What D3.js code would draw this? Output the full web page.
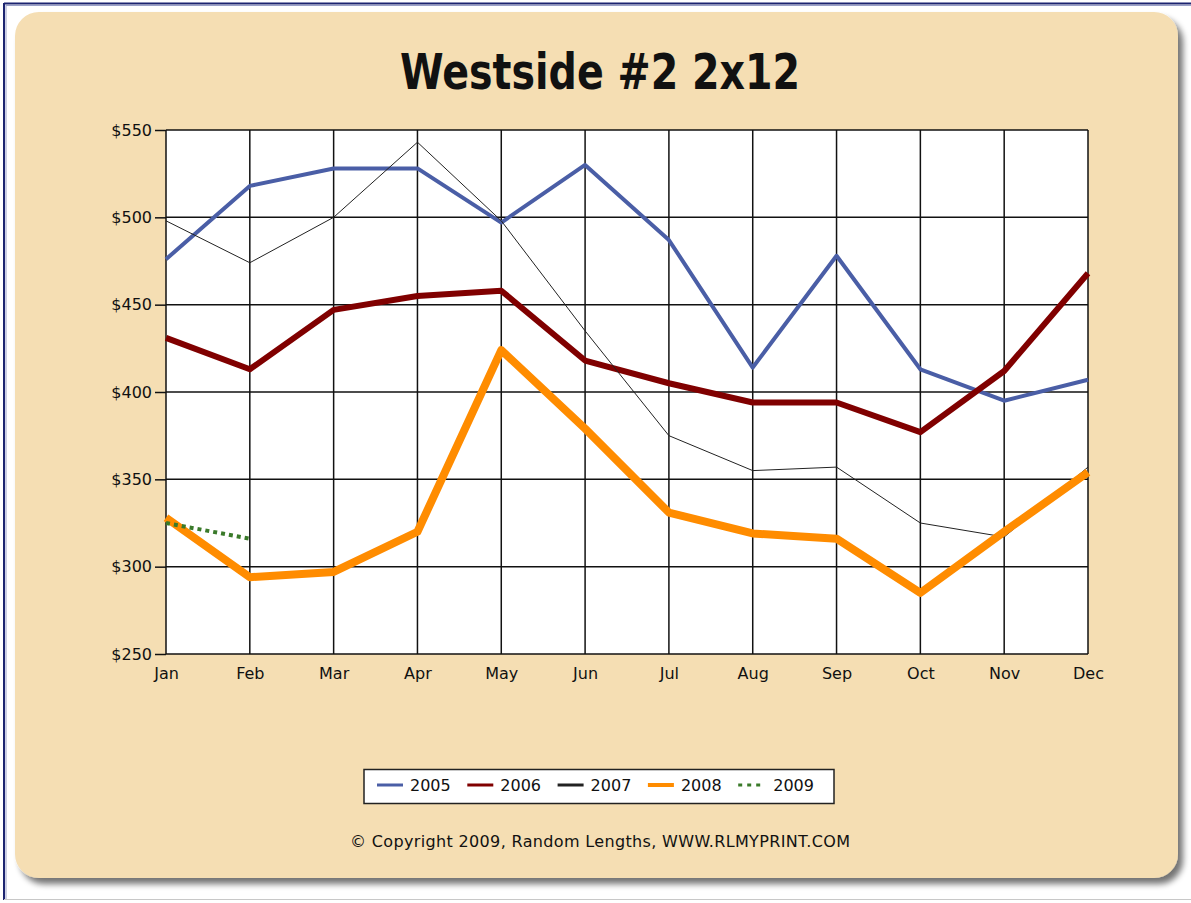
<!DOCTYPE html>
<html>
<head>
<meta charset="utf-8">
<script src="https://cdn.jsdelivr.net/npm/d3@7"></script>
<style>
  body { margin: 0; background: #fff; }
  svg text { font-family: "DejaVu Sans", Verdana, sans-serif; fill: #111; }
</style>
</head>
<body>
<div id="chart"></div>
<script>
var svgWidth = 1191;
var svgHeight = 903;

// chart data
var months = ["Jan", "Feb", "Mar", "Apr", "May", "Jun", "Jul", "Aug", "Sep", "Oct", "Nov", "Dec"];
var years = ["2005", "2006", "2007", "2008", "2009"];
var y2005 = [476, 518, 528, 528, 497, 530, 487, 414, 478, 413, 395, 407];
var y2006 = [431, 413, 447, 455, 458, 418, 405, 394, 394, 377, 412, 468];
var y2007 = [498, 474, 500, 543, 498, 435, 375, 355, 357, 325, 317, 357];
var y2008 = [328, 294, 297, 320, 424, 379, 331, 319, 316, 285, 320, 354];
var y2009 = [325, 316, null, null, null, null, null, null, null, null, null, null];
var yTicks = [250, 300, 350, 400, 450, 500, 550];

var seriesStyle = [
  { values: y2005, color: "#4a5ea6", width: 4, dash: null },
  { values: y2006, color: "#800000", width: 6, dash: null },
  { values: y2007, color: "#222", width: 1, dash: null },
  { values: y2008, color: "#ff8c00", width: 8, dash: null },
  { values: y2009, color: "#3a7a2a", width: 4, dash: "4,4" }
];

var plot = { left: 166, right: 1088, top: 130, bottom: 654 };

var svg = d3.select("#chart")
  .append("svg")
  .attr("width", svgWidth)
  .attr("height", svgHeight);

// page frame
svg.append("line").attr("x1", 4).attr("x2", svgWidth).attr("y1", 3.5).attr("y2", 3.5)
  .attr("stroke", "#1c2470").attr("stroke-width", 2);
svg.append("line").attr("x1", 6).attr("x2", svgWidth).attr("y1", 5.5).attr("y2", 5.5)
  .attr("stroke", "#9aa0c8").attr("stroke-width", 1);
svg.append("line").attr("x1", 4).attr("x2", 4).attr("y1", 3).attr("y2", 900)
  .attr("stroke", "#1c2470").attr("stroke-width", 2);
svg.append("line").attr("x1", 6).attr("x2", 6).attr("y1", 5).attr("y2", 900)
  .attr("stroke", "#9aa0c8").attr("stroke-width", 1);
svg.append("line").attr("x1", 4).attr("x2", svgWidth).attr("y1", 899.5).attr("y2", 899.5)
  .attr("stroke", "#c8c8c8").attr("stroke-width", 1);

// panel with shadow
var defs = svg.append("defs");
var shadow = defs.append("filter").attr("id", "shadow")
  .attr("x", "-5%").attr("y", "-5%").attr("width", "110%").attr("height", "110%");
shadow.append("feGaussianBlur").attr("in", "SourceAlpha").attr("stdDeviation", 3).attr("result", "blur");
shadow.append("feOffset").attr("in", "blur").attr("dx", 5).attr("dy", 6).attr("result", "off");
shadow.append("feComponentTransfer").attr("in", "off").attr("result", "soft")
  .append("feFuncA").attr("type", "linear").attr("slope", 0.55);
var merge = shadow.append("feMerge");
merge.append("feMergeNode").attr("in", "soft");
merge.append("feMergeNode").attr("in", "SourceGraphic");

svg.append("rect")
  .attr("x", 15).attr("y", 12)
  .attr("width", 1163).attr("height", 866)
  .attr("rx", 24).attr("ry", 24)
  .attr("fill", "#f5deb3")
  .attr("filter", "url(#shadow)");

// title
svg.append("text")
  .attr("x", 600).attr("y", 89)
  .attr("text-anchor", "middle")
  .attr("font-size", 50)
  .attr("font-weight", "bold")
  .attr("textLength", 400)
  .attr("lengthAdjust", "spacingAndGlyphs")
  .text("Westside #2 2x12");

// scales
var xScale = d3.scalePoint()
  .domain(months)
  .range([plot.left, plot.right]);

var yScale = d3.scaleLinear()
  .domain([250, 550])
  .range([plot.bottom, plot.top]);

// plot background
svg.append("rect")
  .attr("x", plot.left).attr("y", plot.top)
  .attr("width", plot.right - plot.left).attr("height", plot.bottom - plot.top)
  .attr("fill", "#fff");

// grid
var grid = svg.append("g").attr("stroke", "#111").attr("stroke-width", 1.5);
grid.selectAll(".hgrid")
  .data(yTicks)
  .enter()
  .append("line")
  .attr("x1", plot.left).attr("x2", plot.right)
  .attr("y1", d => yScale(d)).attr("y2", d => yScale(d));
grid.selectAll(".vgrid")
  .data(months)
  .enter()
  .append("line")
  .attr("x1", d => xScale(d)).attr("x2", d => xScale(d))
  .attr("y1", plot.top).attr("y2", plot.bottom);

// axes
var leftAxis = d3.axisLeft(yScale)
  .tickValues(yTicks)
  .tickSize(11)
  .tickPadding(3)
  .tickFormat(d => "$" + d);

var yAxis = svg.append("g")
  .attr("transform", `translate(${plot.left}, 0)`)
  .call(leftAxis);
yAxis.select(".domain").remove();
yAxis.selectAll(".tick line").attr("stroke", "#111").attr("stroke-width", 1.5);
yAxis.selectAll("text").attr("font-size", 16).attr("font-family", "DejaVu Sans");

var bottomAxis = d3.axisBottom(xScale)
  .tickSize(0)
  .tickPadding(14);

var xAxis = svg.append("g")
  .attr("transform", `translate(0, ${plot.bottom})`)
  .call(bottomAxis);
xAxis.select(".domain").remove();
xAxis.selectAll("text").attr("font-size", 16).attr("font-family", "DejaVu Sans");

// lines
var line = d3.line()
  .defined(d => d !== null)
  .x((d, i) => xScale(months[i]))
  .y(d => yScale(d));

svg.append("g")
  .selectAll("path")
  .data(seriesStyle)
  .enter()
  .append("path")
  .attr("d", d => line(d.values))
  .attr("fill", "none")
  .attr("stroke", d => d.color)
  .attr("stroke-width", d => d.width)
  .attr("stroke-linejoin", "round")
  .attr("stroke-dasharray", d => d.dash);

// legend
var legend = svg.append("g");
legend.append("rect")
  .attr("x", 364).attr("y", 769.5)
  .attr("width", 470).attr("height", 34)
  .attr("fill", "#fff")
  .attr("stroke", "#222")
  .attr("stroke-width", 1.5);

var items = legend.selectAll(".item")
  .data(years)
  .enter()
  .append("g")
  .attr("transform", (d, i) => `translate(${377 + i * 90.3}, 785)`);

items.append("line")
  .attr("x1", 0).attr("x2", 26)
  .attr("y1", 0).attr("y2", 0)
  .attr("stroke", (d, i) => seriesStyle[i].color)
  .attr("stroke-width", (d, i) => i === 3 ? 4 : 3)
  .attr("stroke-dasharray", (d, i) => i === 4 ? "4,5" : null);

items.append("text")
  .attr("x", (d, i) => i === 4 ? 35 : 33)
  .attr("y", 0)
  .attr("dy", "0.36em")
  .attr("font-size", 16)
  .text(d => d);

// copyright
svg.append("text")
  .attr("x", 600).attr("y", 847)
  .attr("text-anchor", "middle")
  .attr("font-size", 16)
  .attr("textLength", 500)
  .attr("lengthAdjust", "spacing")
  .text("\u00a9 Copyright 2009, Random Lengths, WWW.RLMYPRINT.COM");
</script>
</body>
</html>
